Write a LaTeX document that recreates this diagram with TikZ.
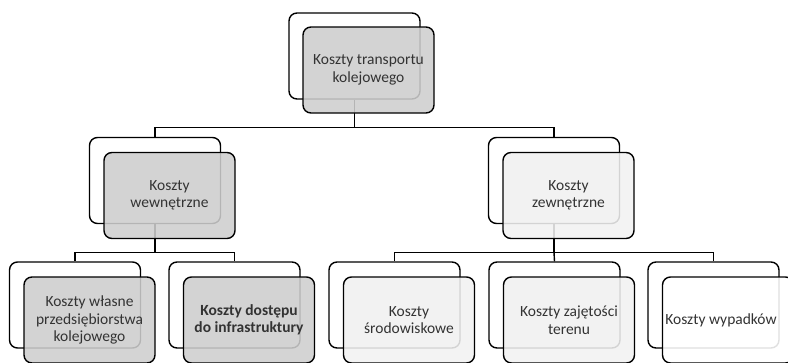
\documentclass[tikz,border=0pt]{standalone}
\usepackage{fontspec}
\setmainfont{Carlito}
\begin{document}
\begin{tikzpicture}[x=1pt,y=-1pt,
  backbox/.style={draw=black,line width=1.4pt,rounded corners=8pt,fill=white,minimum width=131pt,minimum height=86pt,inner sep=0pt},
  frontbox/.style={draw=black,line width=1.4pt,rounded corners=8pt,fill opacity=0.88,text opacity=1,minimum width=131pt,minimum height=86pt,inner sep=0pt,align=center,text=black!80,font=\fontsize{15.5}{17.5}\selectfont},
  darkfill/.style={fill={rgb,255:red,206;green,206;blue,206}},
  lightfill/.style={fill={rgb,255:red,241;green,241;blue,241}},
  whitefill/.style={fill=white},
  conn/.style={draw=black,line width=1.4pt}]
\useasboundingbox (0,0) rectangle (788,362);
% level 1
\node[backbox] (b0) at (354.5,56) {};
% level 2
\node[backbox] (b1) at (155,180.5) {};
\node[backbox] (b2) at (554,180.5) {};
% level 3
\node[backbox] (b11) at (75,305) {};
\node[backbox] (b12) at (234.5,305) {};
\node[backbox] (b21) at (394.5,305) {};
\node[backbox] (b22) at (554.5,305) {};
\node[backbox] (b23) at (713.5,305) {};
% connectors
\draw[conn] (b0.south) -- ++(0,28) coordinate (c0) -| (b1.north);
\draw[conn] (c0) -| (b2.north);
\draw[conn] (b1.south) -- ++(0,28) coordinate (c1) -| (b11.north);
\draw[conn] (c1) -| (b12.north);
\draw[conn] (b2.south) -- ++(0,28) coordinate (c2) -| (b21.north);
\draw[conn] (c2) -| (b23.north);
\draw[conn] (c2) -- (b22.north);
% front boxes
\node[frontbox,darkfill] (f0) at ([shift={(14,14)}]b0.center) {Koszty transportu\\kolejowego};
\node[frontbox,darkfill] (f1) at ([shift={(14.5,15)}]b1.center) {Koszty\\wewnętrzne};
\node[frontbox,lightfill] (f2) at ([shift={(14.5,15)}]b2.center) {Koszty\\zewnętrzne};
\node[frontbox,darkfill] (f11) at ([shift={(14.5,15)}]b11.center) {Koszty własne\\przedsiębiorstwa\\kolejowego};
\node[frontbox,darkfill,font=\fontsize{15.5}{17.5}\selectfont\bfseries] (f12) at ([shift={(14.5,15)}]b12.center) {Koszty dostępu\\do infrastruktury};
\node[frontbox,lightfill] (f21) at ([shift={(14.5,15)}]b21.center) {Koszty\\środowiskowe};
\node[frontbox,lightfill] (f22) at ([shift={(14.5,15)}]b22.center) {Koszty zajętości\\terenu};
\node[frontbox,whitefill] (f23) at ([shift={(14.5,15)}]b23.center) {};
\node[text=black!80,font=\fontsize{15.5}{17.5}\selectfont,inner sep=0pt] (t23) at (721,320) {Koszty wypadków};
\end{tikzpicture}
\end{document}
